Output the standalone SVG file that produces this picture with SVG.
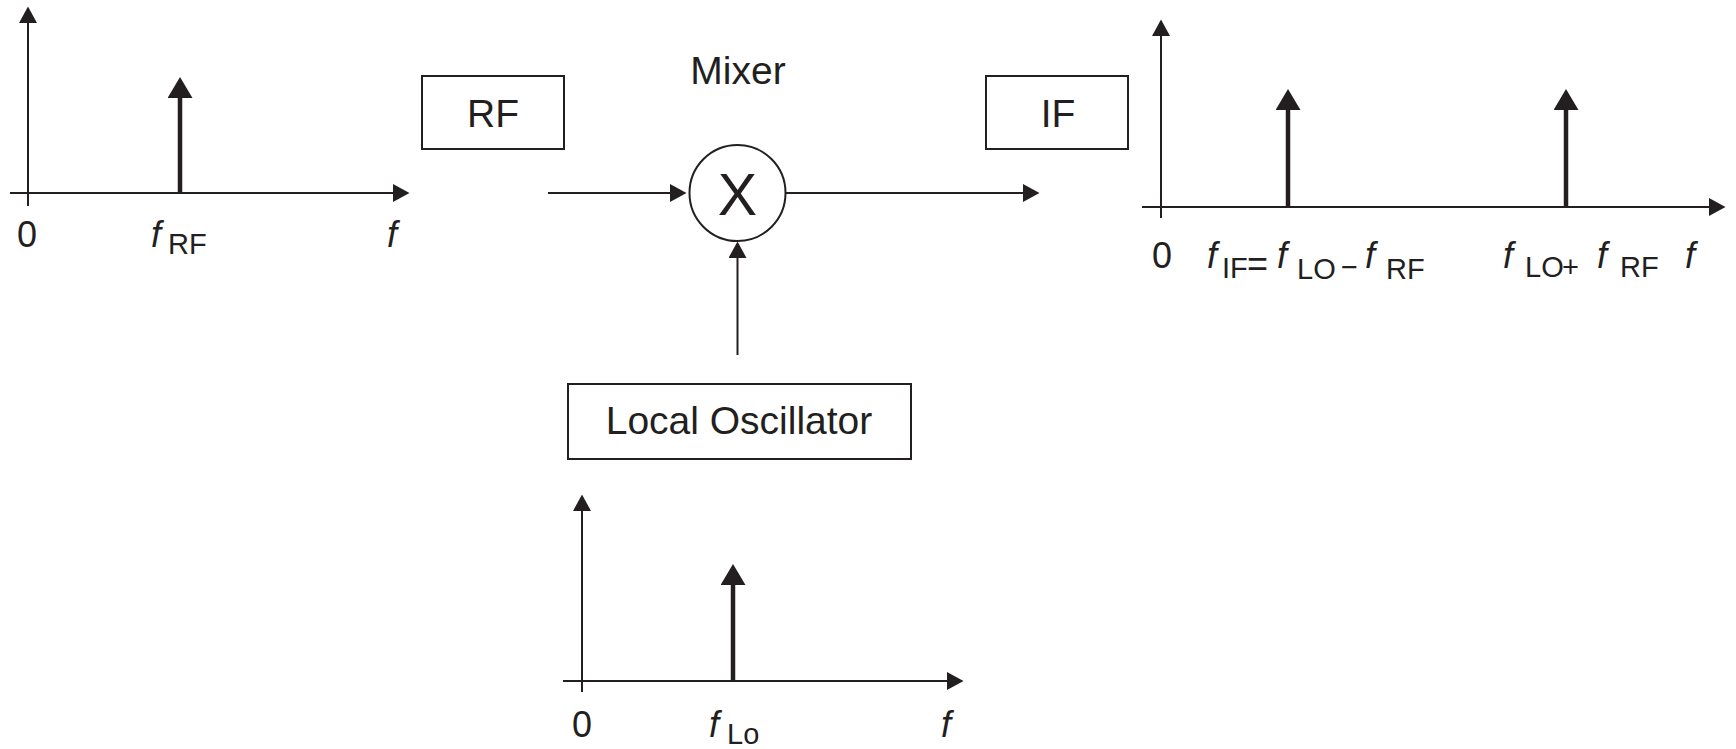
<svg xmlns="http://www.w3.org/2000/svg" width="1736" height="749" viewBox="0 0 1736 749">
<style>
  .ln { stroke:#231f20; stroke-width:2; fill:none; }
  .ax { stroke:#231f20; stroke-width:2; fill:none; marker-end:url(#ah); }
  .sp { stroke:#231f20; stroke-width:4.5; fill:none; marker-end:url(#ahs); }
  .box { fill:#fff; stroke:#231f20; stroke-width:2; }
  text { font-family:"Liberation Sans", Arial, sans-serif; fill:#231f20; }
  .lbl { font-size:39px; text-anchor:middle; }
  .m { font-size:36px; }
  .i { font-size:36px; font-style:italic; }
  .s { font-size:29px; }
</style>
<defs>
  <marker id="ah" markerUnits="userSpaceOnUse" markerWidth="17" markerHeight="18" refX="0" refY="9" orient="auto">
    <path d="M0,0 L16.5,9 L0,18 z" fill="#231f20"/>
  </marker>
  <marker id="ahs" markerUnits="userSpaceOnUse" markerWidth="22" markerHeight="25" refX="0" refY="12.5" orient="auto">
    <path d="M0,0 L21,12.5 L0,25 z" fill="#231f20"/>
  </marker>
</defs>

<g id="rf-spectrum">
  <line class="ax" x1="28" y1="206" x2="28" y2="23"/>
  <line class="ax" x1="10" y1="193" x2="393" y2="193"/>
  <line class="sp" x1="180" y1="193" x2="180" y2="98"/>
  <text class="m" x="17" y="247">0</text>
  <text class="i" x="151" y="247">f</text>
  <text class="s" x="168" y="254">RF</text>
  <text class="i" x="387" y="247">f</text>
</g>

<g id="rf-box">
  <rect class="box" x="422" y="76" width="142" height="73"/>
  <text class="lbl" x="493" y="127">RF</text>
</g>

<g id="mixer">
  <text class="lbl" x="738" y="84">Mixer</text>
  <circle cx="737.5" cy="193" r="48" fill="#fff" stroke="#231f20" stroke-width="2"/>
  <text x="737.5" y="215" font-size="59" text-anchor="middle">X</text>
</g>

<g id="if-box">
  <rect class="box" x="986" y="76" width="142" height="73"/>
  <text class="lbl" x="1058" y="127">IF</text>
</g>

<g id="if-spectrum">
  <line class="ax" x1="1161" y1="218" x2="1161" y2="36"/>
  <line class="ax" x1="1142" y1="207" x2="1709" y2="207"/>
  <line class="sp" x1="1288" y1="207" x2="1288" y2="110"/>
  <line class="sp" x1="1566" y1="207" x2="1566" y2="110"/>
  <text class="m" x="1152" y="268">0</text>
  <text class="i" x="1207" y="268">f</text>
  <text class="s" x="1222" y="278" font-size="27">IF</text>
  <text x="1247" y="276" font-size="36">=</text>
  <text class="i" x="1277" y="268">f</text>
  <text class="s" x="1297" y="279">LO</text>
  <text class="s" x="1341" y="277">−</text>
  <text class="i" x="1365" y="268">f</text>
  <text class="s" x="1386" y="279">RF</text>
  <text class="i" x="1503" y="268">f</text>
  <text class="s" x="1525" y="277">LO</text>
  <text class="s" x="1562" y="277" font-size="32">+</text>
  <text class="i" x="1597" y="268">f</text>
  <text class="s" x="1620" y="277">RF</text>
  <text class="i" x="1685" y="268">f</text>
</g>

<g id="lo-box">
  <rect class="box" x="568" y="384" width="343" height="75"/>
  <text class="lbl" x="739" y="434">Local Oscillator</text>
</g>

<g id="lo-spectrum">
  <line class="ax" x1="582" y1="692" x2="582" y2="511"/>
  <line class="ax" x1="563" y1="681" x2="947" y2="681"/>
  <line class="sp" x1="733" y1="681" x2="733" y2="585"/>
  <text class="m" x="572" y="737">0</text>
  <text class="i" x="709" y="737">f</text>
  <text class="s" x="727" y="744">Lo</text>
  <text class="i" x="941" y="737">f</text>
</g>

<g id="connectors">
  <line class="ax" x1="548" y1="193" x2="670" y2="193"/>
  <line class="ax" x1="786" y1="193" x2="1023" y2="193"/>
  <line class="ax" x1="737.5" y1="355" x2="737.5" y2="258"/>
</g>
</svg>
